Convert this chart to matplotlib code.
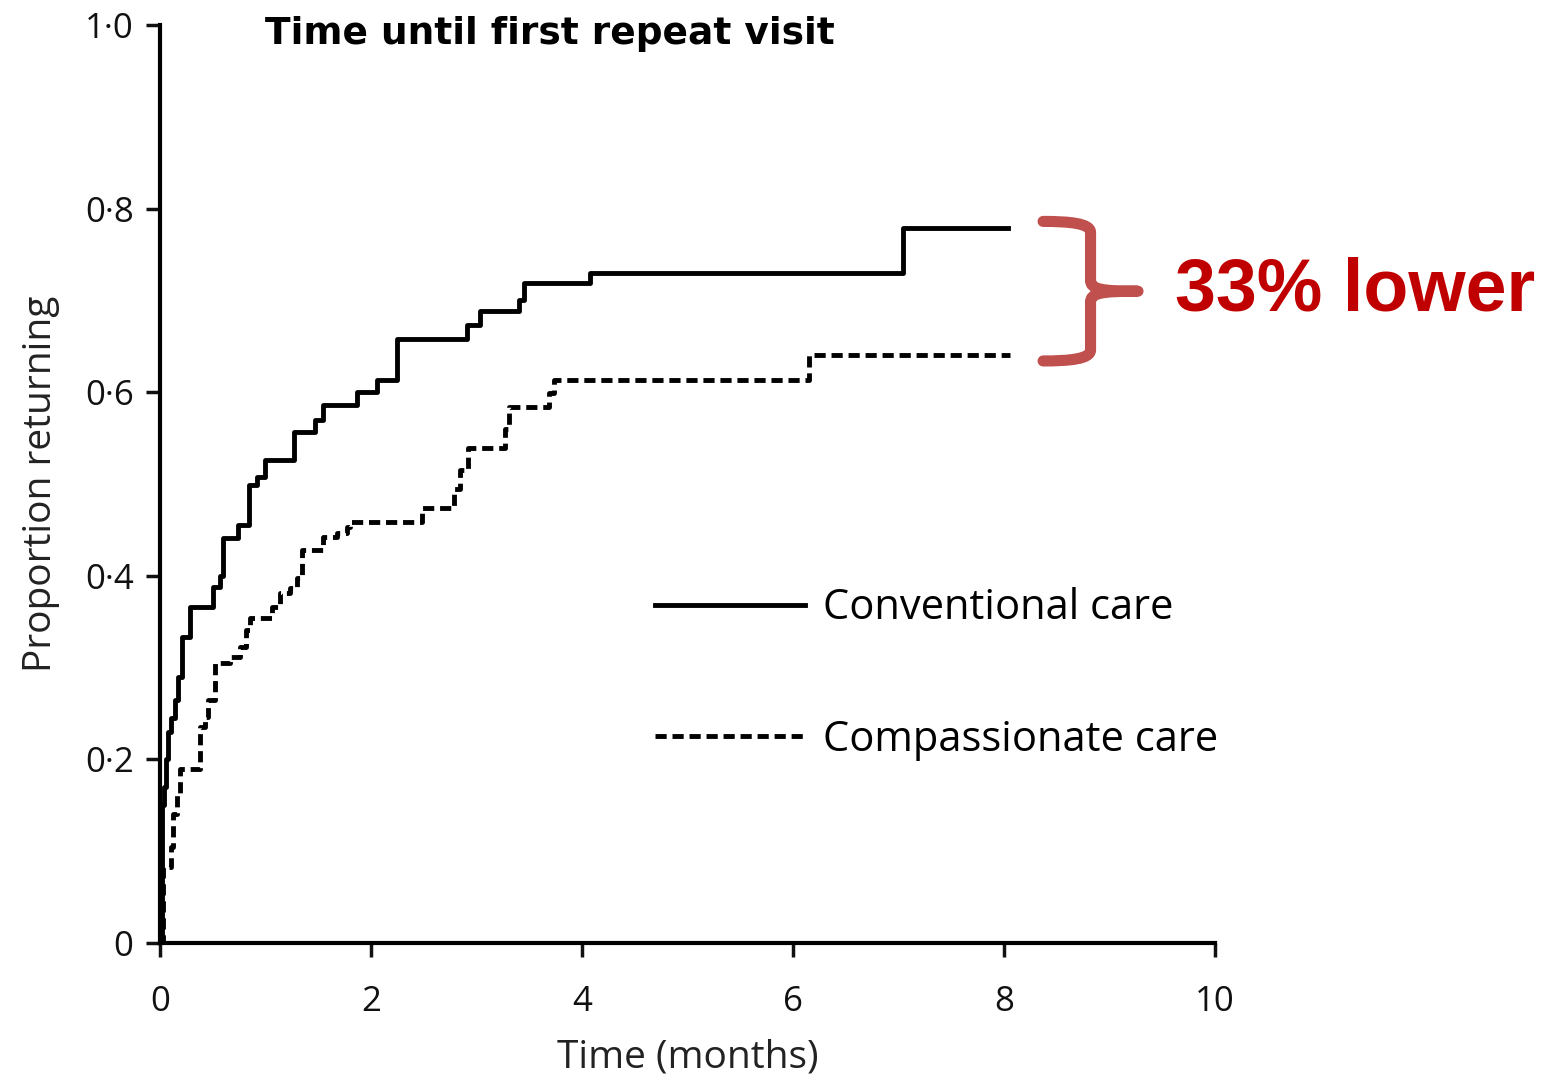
import matplotlib.pyplot as plt
from matplotlib.path import Path
from matplotlib.patches import PathPatch

# cumulative proportion returning (Kaplan-Meier style, step after each time)
conv_t = [0, 0.02, 0.04, 0.06, 0.08, 0.10, 0.14, 0.17, 0.21, 0.28, 0.50, 0.57,
          0.60, 0.74, 0.84, 0.92, 1.00, 1.27, 1.47, 1.55, 1.87, 2.06, 2.25,
          2.91, 3.03, 3.40, 3.45, 4.08, 7.04, 8.04]
conv_p = [0, 0.15, 0.17, 0.20, 0.23, 0.245, 0.265, 0.29, 0.333, 0.366, 0.388, 0.40,
          0.441, 0.455, 0.499, 0.508, 0.526, 0.557, 0.570, 0.586, 0.600, 0.613, 0.658,
          0.673, 0.688, 0.700, 0.719, 0.730, 0.779, 0.779]

comp_t = [0, 0.03, 0.10, 0.12, 0.16, 0.19, 0.38, 0.43, 0.46, 0.52, 0.66, 0.76,
          0.82, 0.85, 1.06, 1.14, 1.23, 1.30, 1.35, 1.55, 1.68, 1.77, 1.80,
          2.48, 2.79, 2.84, 2.92, 3.27, 3.31, 3.69, 3.73, 6.15, 8.06]
comp_p = [0, 0.083, 0.105, 0.14, 0.163, 0.19, 0.235, 0.246, 0.265, 0.305, 0.312, 0.322,
          0.341, 0.354, 0.366, 0.381, 0.387, 0.398, 0.428, 0.442, 0.447, 0.453, 0.459,
          0.474, 0.495, 0.515, 0.539, 0.56, 0.584, 0.599, 0.613, 0.641, 0.641]

x_ticks = [0, 2, 4, 6, 8, 10]
y_ticks = [0, 0.2, 0.4, 0.6, 0.8, 1.0]
y_tick_labels = ["0", "0·2", "0·4", "0·6", "0·8", "1·0"]

plt.rcParams['font.family'] = ['Open Sans', 'DejaVu Sans']

fig = plt.figure(figsize=(15.5, 10.81), dpi=100)
ax = fig.add_axes([0.1032, 0.1277, 0.6807, 0.8492])

ax.step(conv_t, conv_p, where='post', color='black', lw=3.5, label='Conventional care')
ax.step(comp_t, comp_p, where='post', color='black', lw=3.5, linestyle=(0, (2.3, 1.2)),
        label='Compassionate care')

ax.set_xlim(0, 10)
ax.set_ylim(0, 1.0)
ax.set_xticks(x_ticks)
ax.set_xticklabels([str(v) for v in x_ticks])
ax.set_yticks(y_ticks)
ax.set_yticklabels(y_tick_labels)
ax.tick_params(direction='out', length=10, width=2.5, labelsize=25, colors='#111111')
ax.tick_params(axis='x', pad=20)
ax.tick_params(axis='y', pad=9)
for side in ['top', 'right']:
    ax.spines[side].set_visible(False)
for side in ['left', 'bottom']:
    ax.spines[side].set_linewidth(3)

ax.set_xlabel("Time (months)", fontsize=28, color='#222222', labelpad=14)
ax.set_ylabel("Proportion returning", fontsize=28, color='#222222', labelpad=18)
ax.text(1.0, 0.99, "Time until first repeat visit", fontsize=27, fontweight='bold',
        va='center', ha='left', family=['DejaVu Sans'])

ax.legend(loc='upper left', bbox_to_anchor=(0.449, 0.41), frameon=False, fontsize=30,
          borderpad=0, handlelength=3.6, handletextpad=0.45, labelspacing=2.15)

# curly brace between the two end values
top = conv_p[-1] + 0.007
bot = comp_p[-1] - 0.007
mid = (top + bot) / 2
x0, x1, x2 = 8.37, 8.82, 9.27
r = 0.012
verts = [(x0, top), (x0 + 0.25, top), (x1, top - 0.002), (x1, top - r),
         (x1, mid + r),
         (x1, mid + 0.002), (x1 + 0.1, mid), (x2, mid),
         (x1 + 0.1, mid), (x1, mid - 0.002), (x1, mid - r),
         (x1, bot + r),
         (x1, bot + 0.002), (x0 + 0.25, bot), (x0, bot)]
codes = [Path.MOVETO, Path.CURVE4, Path.CURVE4, Path.CURVE4,
         Path.LINETO,
         Path.CURVE4, Path.CURVE4, Path.CURVE4,
         Path.CURVE4, Path.CURVE4, Path.CURVE4,
         Path.LINETO,
         Path.CURVE4, Path.CURVE4, Path.CURVE4]
brace = PathPatch(Path(verts, codes), fill=False, edgecolor='#C0504D', lw=8,
                  capstyle='round', joinstyle='round', clip_on=False)
ax.add_patch(brace)

ax.text(9.62, mid, "33% lower", color='#C00000', fontsize=53, fontweight='bold',
        va='center', ha='left', family=['Liberation Sans'], clip_on=False)

fig.savefig("out.png", dpi=100)
